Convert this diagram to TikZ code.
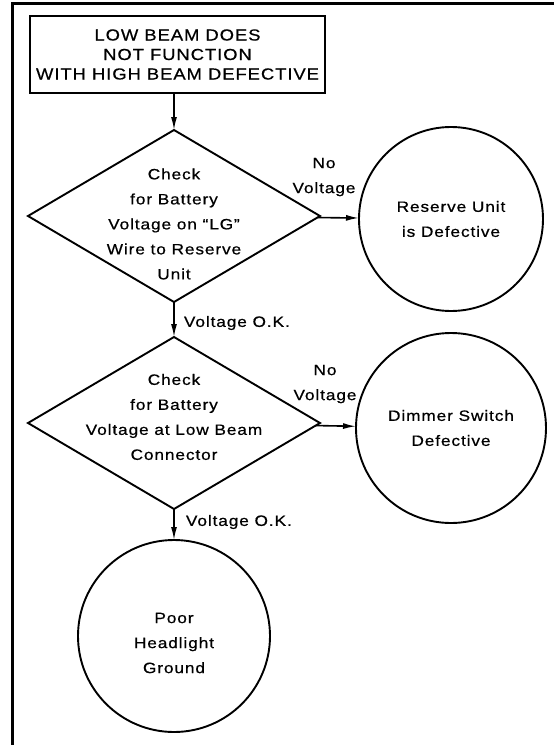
\documentclass[tikz,border=0pt]{standalone}
\usepackage{fontspec}
\setmainfont{Liberation Sans}[FakeStretch=1.15,LetterSpace=6,FakeBold=0.6]
\usetikzlibrary{shapes.geometric,arrows.meta}
\tikzset{
  frameline/.style={line width=2.6pt},
  titlebox/.style={draw, line width=2.2pt, minimum width=295pt, minimum height=77pt,
    inner sep=0pt, outer sep=0pt, align=center, font=\fontsize{16}{19.5}\selectfont},
  dia/.style={draw, diamond, minimum width=292pt, minimum height=172pt,
    inner sep=0pt, outer sep=0pt},
  res/.style={draw, circle, inner sep=0pt, outer sep=0pt, align=center,
    font=\fontsize{15}{25}\selectfont},
  txt/.style={align=center, inner sep=0pt, font=\fontsize{15}{25}\selectfont},
  arr/.style={-{Latex[length=13pt,width=6pt]}, line width=1.6pt},
}
\begin{document}
\begin{tikzpicture}[x=1pt,y=-1pt,line width=1.9pt]
\useasboundingbox (0,0) rectangle (554,745);
\draw[frameline] (12.5,745) -- (12.5,3.5) -- (554,3.5);

\node[titlebox] (t) at (177.5,54.5) {LOW BEAM DOES\\NOT FUNCTION\\WITH HIGH BEAM DEFECTIVE};

\node[dia] (d1) at (174,216) {};
\node[txt] (d1t) at (174,224) {Check\\for Battery\\Voltage on “LG”\\Wire to Reserve\\Unit};

\node[dia] (d2) at (174,423) {};
\node[txt] (d2t) at (174,417) {Check\\for Battery\\Voltage at Low Beam\\Connector};

\node[res, minimum size=184pt] (c1) at (451,219) {Reserve Unit\\is Defective};
\node[res, minimum size=190pt] (c2) at (451,428) {Dimmer Switch\\Defective};
\node[res, minimum size=192pt] (c3) at (174,636) {};
\node[txt] (c3t) at (174,643) {Poor\\Headlight\\Ground};

\draw[arr] (t.south -| d1.north) -- (d1.north);
\draw[arr] (d1) -- (c1);
\draw[arr] (d1) -- (d2);
\draw[arr] (d2) -- (c2);
\draw[arr] (d2) -- (c3);

\node[txt] (n1) at (324,177) {No\\Voltage};
\node[txt] (n2) at (325,384) {No\\Voltage};
\node[txt, anchor=west] (ok1) at (183,323) {Voltage O.K.};
\node[txt, anchor=west] (ok2) at (185,522) {Voltage O.K.};
\end{tikzpicture}
\end{document}
